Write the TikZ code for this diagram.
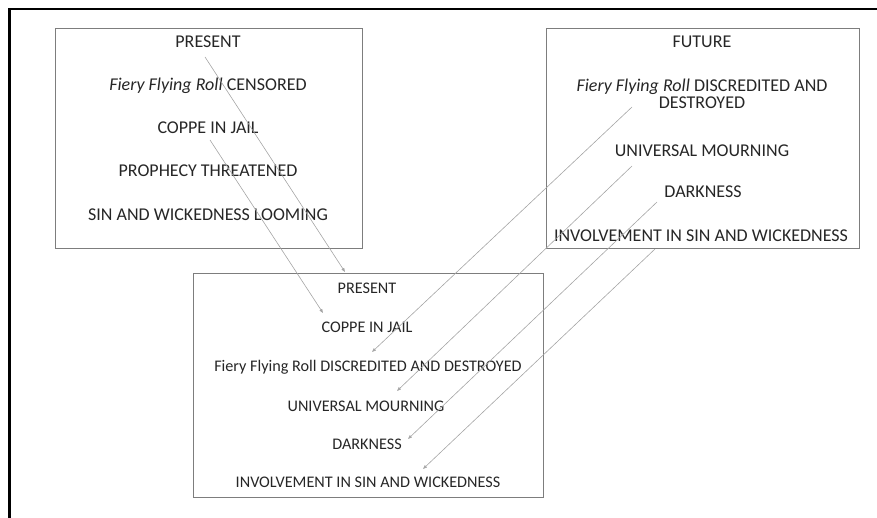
\documentclass[tikz,border=0pt]{standalone}
\usepackage{fontspec}
\setmainfont{Carlito}
\usetikzlibrary{arrows.meta}
\definecolor{boxgray}{RGB}{125,125,125}
\definecolor{arrgray}{RGB}{165,165,165}
\tikzset{
  boxframe/.style={draw=boxgray, line width=0.9pt, inner sep=0pt},
  toptext/.style={font=\fontsize{18}{19}\selectfont, text=black!85, inner sep=0pt, align=center},
  bottext/.style={font=\fontsize{16.2}{17}\selectfont, text=black!85, inner sep=0pt, align=center},
  link/.style={draw=arrgray, line width=0.6pt, -{Triangle[length=4pt,width=3pt]}},
}
\begin{document}
\begin{tikzpicture}[x=1pt,y=-1pt]
\useasboundingbox (0,0) rectangle (877,518);
% outer frame (top and left)
\draw[line width=2.6pt, line cap=butt] (9.5,518) -- (9.5,9) -- (877,9);
% boxes
\node[boxframe, minimum width=307pt, minimum height=220pt] (pbox) at (208.5,138) {};
\node[boxframe, minimum width=313pt, minimum height=220pt] (fbox) at (702.5,138) {};
\node[boxframe, minimum width=350pt, minimum height=224pt] (rbox) at (368,385) {};
% present box texts
\node[toptext] (p1) at (208,42) {PRESENT};
\node[toptext] (p2) at (208,86) {\textit{Fiery Flying Roll} CENSORED};
\node[toptext] (p3) at (208,128) {COPPE IN JAIL};
\node[toptext] (p4) at (208,171) {PROPHECY THREATENED};
\node[toptext] (p5) at (208,215) {SIN AND WICKEDNESS LOOMING};
% future box texts
\node[toptext] (f1) at (702,42) {FUTURE};
\node[toptext] (f2) at (702,94) {\textit{Fiery Flying Roll} DISCREDITED AND\\[-2pt]DESTROYED};
\node[toptext] (f3) at (702,151) {UNIVERSAL MOURNING};
\node[toptext] (f4) at (703,192) {DARKNESS};
\node[toptext] (f5) at (701,236) {INVOLVEMENT IN SIN AND WICKEDNESS};
% result box texts
\node[bottext] (r1) at (367,288) {PRESENT};
\node[bottext] (r2) at (367,327) {COPPE IN JAIL};
\node[bottext] (r3) at (368,367) {Fiery Flying Roll DISCREDITED AND DESTROYED};
\node[bottext] (r4) at (366,406) {UNIVERSAL MOURNING};
\node[bottext] (r5) at (367,444) {DARKNESS};
\node[bottext] (r6) at (368,482) {INVOLVEMENT IN SIN AND WICKEDNESS};
% arrow ends
\coordinate (s1) at (205,57);  \coordinate (t1) at (345,272);
\coordinate (s2) at (210,140); \coordinate (t2) at (323,313);
\coordinate (s3) at (632,107); \coordinate (t3) at (372,352);
\coordinate (s4) at (632,166); \coordinate (t4) at (397,391);
\coordinate (s5) at (657,202); \coordinate (t5) at (408,439);
\coordinate (s6) at (655,249); \coordinate (t6) at (423,469);
\foreach \i in {1,...,6} { \draw[link] (s\i) -- (t\i); }
\end{tikzpicture}
\end{document}
